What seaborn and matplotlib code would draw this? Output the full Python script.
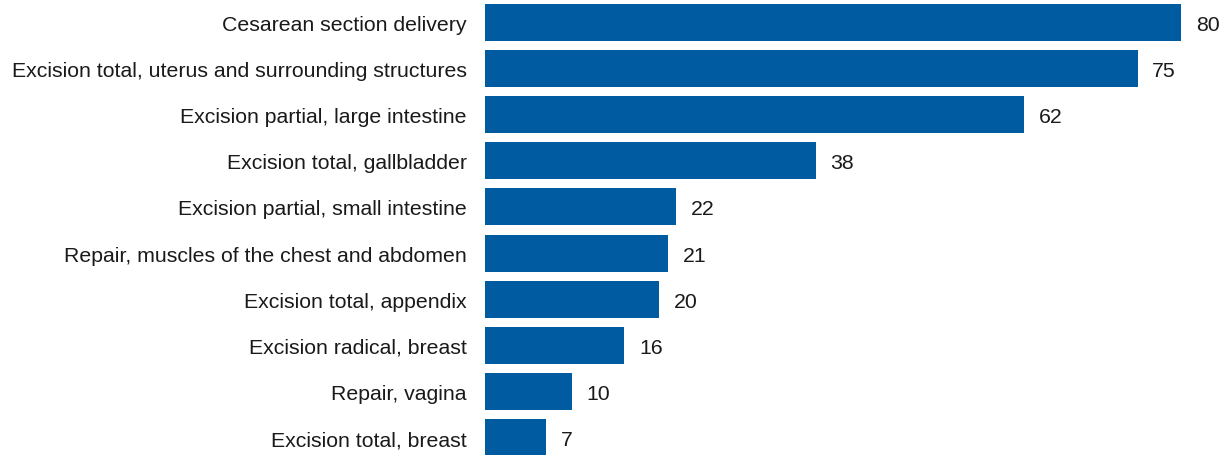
import matplotlib
matplotlib.use("Agg")
import matplotlib.pyplot as plt
import seaborn as sns
import pandas as pd

procedures = [
    "Cesarean section delivery",
    "Excision total, uterus and surrounding structures",
    "Excision partial, large intestine",
    "Excision total, gallbladder",
    "Excision partial, small intestine",
    "Repair, muscles of the chest and abdomen",
    "Excision total, appendix",
    "Excision radical, breast",
    "Repair, vagina",
    "Excision total, breast",
]
counts = [80, 75, 62, 38, 22, 21, 20, 16, 10, 7]

df = pd.DataFrame({"procedure": procedures, "count": counts})

sns.set_style("white")
plt.rcParams["font.family"] = ["Liberation Sans", "DejaVu Sans"]

fig = plt.figure(figsize=(12.26, 4.56), dpi=100)
ax = fig.add_axes([485 / 1226, -6 / 456, 741 / 1226, 462 / 456])

sns.barplot(data=df, x="count", y="procedure", color="#005BA1",
            saturation=1, width=0.8, linewidth=0, ax=ax)

for i, v in enumerate(counts):
    ax.text(v + 1.7, i, str(v), va="center_baseline", ha="left",
            fontsize=15.3, color="#1a1a1a")

ax.set_xlim(0, 741 / 8.7)
ax.set_ylim(9.5, -0.5)
ax.set_xlabel("")
ax.set_ylabel("")
ax.set_xticks([])
ax.tick_params(axis="y", length=0, pad=13, labelsize=15.3, labelcolor="#1a1a1a")
sns.despine(ax=ax, left=True, bottom=True)

fig.savefig("out.png", dpi=100)
plt.close(fig)
